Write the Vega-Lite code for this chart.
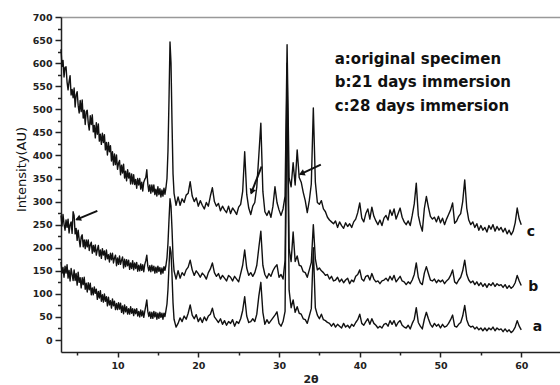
{
"$schema": "https://vega.github.io/schema/vega-lite/v6.json",
"width": 499, "height": 335,
"autosize": {"type": "none"},
"padding": {"left": 61, "top": 17, "right": 0, "bottom": 33},
"config": {"view": {"stroke": null}, "axis": {"grid": false}},
"datasets": {
"xrd": [
{"x":3.000,"a":169,"b":270,"c":630},{"x":3.125,"a":145,"b":247,"c":593},{"x":3.250,"a":157,"b":272,"c":606},{"x":3.375,"a":136,"b":251,"c":570},
{"x":3.500,"a":160,"b":238,"c":591},{"x":3.625,"a":145,"b":260,"c":592},{"x":3.750,"a":163,"b":244,"c":559},{"x":3.875,"a":134,"b":262,"c":542},
{"x":4.000,"a":151,"b":232,"c":560},{"x":4.125,"a":128,"b":250,"c":573},{"x":4.250,"a":155,"b":256,"c":531},{"x":4.375,"a":142,"b":231,"c":543},
{"x":4.500,"a":129,"b":278,"c":525},{"x":4.625,"a":152,"b":270,"c":546},{"x":4.750,"a":129,"b":230,"c":505},{"x":4.875,"a":144,"b":242,"c":531},
{"x":5.000,"a":119,"b":216,"c":538},{"x":5.125,"a":147,"b":238,"c":509},{"x":5.250,"a":125,"b":218,"c":492},{"x":5.375,"a":135,"b":202,"c":519},
{"x":5.500,"a":113,"b":223,"c":495},{"x":5.625,"a":135,"b":228,"c":520},{"x":5.750,"a":120,"b":202,"c":481},{"x":5.875,"a":136,"b":217,"c":498},
{"x":6.000,"a":110,"b":198,"c":467},{"x":6.125,"a":123,"b":217,"c":495},{"x":6.250,"a":104,"b":202,"c":498},{"x":6.375,"a":124,"b":217,"c":470},
{"x":6.500,"a":109,"b":194,"c":455},{"x":6.625,"a":123,"b":206,"c":486},{"x":6.750,"a":98,"b":212,"c":467},{"x":6.875,"a":113,"b":188,"c":488},
{"x":7.000,"a":98,"b":205,"c":451},{"x":7.125,"a":115,"b":191,"c":465},{"x":7.250,"a":101,"b":206,"c":438},{"x":7.375,"a":110,"b":184,"c":471},
{"x":7.500,"a":88,"b":196,"c":446},{"x":7.625,"a":105,"b":205,"c":468},{"x":7.750,"a":91,"b":182,"c":431},{"x":7.875,"a":107,"b":195,"c":446},
{"x":8.000,"a":84,"b":177,"c":424},{"x":8.125,"a":98,"b":198,"c":448},{"x":8.250,"a":82,"b":184,"c":428},{"x":8.375,"a":100,"b":193,"c":445},
{"x":8.500,"a":84,"b":174,"c":412},{"x":8.625,"a":94,"b":195,"c":428},{"x":8.750,"a":74,"b":176,"c":401},{"x":8.875,"a":93,"b":185,"c":428},
{"x":9.000,"a":76,"b":169,"c":408},{"x":9.125,"a":85,"b":188,"c":421},{"x":9.250,"a":69,"b":174,"c":388},{"x":9.375,"a":89,"b":188,"c":408},
{"x":9.500,"a":74,"b":167,"c":379},{"x":9.625,"a":84,"b":178,"c":403},{"x":9.750,"a":66,"b":184,"c":380},{"x":9.875,"a":79,"b":161,"c":401},
{"x":10.000,"a":66,"b":178,"c":370},{"x":10.125,"a":81,"b":164,"c":383},{"x":10.250,"a":67,"b":182,"c":389},{"x":10.375,"a":80,"b":164,"c":358},
{"x":10.500,"a":60,"b":173,"c":379},{"x":10.625,"a":74,"b":180,"c":362},{"x":10.750,"a":57,"b":156,"c":381},{"x":10.875,"a":76,"b":175,"c":351},
{"x":11.000,"a":61,"b":159,"c":366},{"x":11.125,"a":72,"b":174,"c":345},{"x":11.250,"a":56,"b":161,"c":369},{"x":11.375,"a":68,"b":173,"c":351},
{"x":11.500,"a":56,"b":153,"c":362},{"x":11.625,"a":72,"b":167,"c":338},{"x":11.750,"a":58,"b":155,"c":360},{"x":11.875,"a":68,"b":172,"c":338},
{"x":12.000,"a":53,"b":152,"c":358},{"x":12.125,"a":67,"b":167,"c":337},{"x":12.250,"a":57,"b":155,"c":348},{"x":12.375,"a":68,"b":168,"c":329},
{"x":12.500,"a":52,"b":149,"c":350},{"x":12.625,"a":62,"b":162,"c":336},{"x":12.750,"a":50,"b":150,"c":350},{"x":12.875,"a":65,"b":165,"c":327},
{"x":13.000,"a":52,"b":151,"c":342},{"x":13.125,"a":63,"b":163,"c":323},{"x":13.250,"a":49,"b":148,"c":342},{"x":13.375,"a":62,"b":164,"c":348},
{"x":13.500,"a":74,"b":172,"c":352},{"x":13.625,"a":87,"b":184,"c":369},{"x":13.750,"a":62,"b":160,"c":338},{"x":13.875,"a":51,"b":150,"c":322},
{"x":14.000,"a":61,"b":161,"c":336},{"x":14.125,"a":47,"b":148,"c":318},{"x":14.250,"a":60,"b":162,"c":336},{"x":14.375,"a":47,"b":150,"c":321},
{"x":14.500,"a":62,"b":160,"c":336},{"x":14.625,"a":50,"b":145,"c":315},{"x":14.750,"a":60,"b":158,"c":327},{"x":14.875,"a":45,"b":146,"c":312},
{"x":15.000,"a":58,"b":160,"c":332},{"x":15.125,"a":47,"b":149,"c":315},{"x":15.250,"a":60,"b":157,"c":328},{"x":15.375,"a":49,"b":143,"c":310},
{"x":15.500,"a":58,"b":156,"c":325},{"x":15.625,"a":45,"b":145,"c":312},{"x":15.750,"a":58,"b":159,"c":329},{"x":15.875,"a":51,"b":151,"c":316},
{"x":16.000,"a":64,"b":162,"c":330},{"x":16.125,"a":78,"b":178,"c":350},{"x":16.250,"a":110,"b":210,"c":410},{"x":16.375,"a":160,"b":260,"c":520},
{"x":16.500,"a":202,"b":306,"c":646},{"x":16.625,"a":190,"b":290,"c":600},{"x":16.750,"a":140,"b":240,"c":470},{"x":16.875,"a":80,"b":180,"c":360},
{"x":17.000,"a":45,"b":150,"c":318},{"x":17.250,"a":28,"b":132,"c":292},
{"x":17.50,"a":36,"b":150,"c":310},{"x":17.75,"a":48,"b":134,"c":292},{"x":18.00,"a":40,"b":146,"c":306},{"x":18.25,"a":52,"b":140,"c":298},
{"x":18.50,"a":45,"b":152,"c":314},{"x":18.75,"a":58,"b":158,"c":318},{"x":19.00,"a":76,"b":173,"c":343},{"x":19.25,"a":54,"b":152,"c":312},
{"x":19.50,"a":46,"b":140,"c":300},{"x":19.75,"a":55,"b":150,"c":308},{"x":20.00,"a":40,"b":144,"c":290},{"x":20.25,"a":48,"b":136,"c":302},
{"x":20.50,"a":38,"b":145,"c":292},{"x":20.75,"a":50,"b":140,"c":284},{"x":21.00,"a":42,"b":132,"c":298},{"x":21.25,"a":52,"b":146,"c":290},
{"x":21.50,"a":56,"b":154,"c":312},{"x":21.75,"a":69,"b":167,"c":330},{"x":22.00,"a":50,"b":146,"c":300},{"x":22.25,"a":44,"b":138,"c":290},
{"x":22.50,"a":38,"b":144,"c":296},{"x":22.75,"a":46,"b":132,"c":280},{"x":23.00,"a":34,"b":140,"c":290},{"x":23.25,"a":42,"b":134,"c":282},
{"x":23.50,"a":32,"b":128,"c":276},{"x":23.75,"a":40,"b":140,"c":290},{"x":24.00,"a":36,"b":136,"c":274},{"x":24.25,"a":44,"b":128,"c":286},
{"x":24.50,"a":30,"b":138,"c":280},{"x":24.75,"a":40,"b":132,"c":272},{"x":25.00,"a":36,"b":126,"c":288},{"x":25.25,"a":46,"b":144,"c":294},
{"x":25.50,"a":64,"b":162,"c":322},{"x":25.75,"a":94,"b":195,"c":408},{"x":26.00,"a":52,"b":156,"c":316},{"x":26.25,"a":38,"b":140,"c":286},
{"x":26.50,"a":40,"b":146,"c":272},{"x":26.75,"a":46,"b":138,"c":290},{"x":27.00,"a":40,"b":146,"c":298},{"x":27.25,"a":56,"b":162,"c":332},
{"x":27.50,"a":95,"b":200,"c":400},{"x":27.75,"a":125,"b":236,"c":470},{"x":28.00,"a":60,"b":162,"c":322},{"x":28.25,"a":34,"b":142,"c":278},
{"x":28.50,"a":44,"b":134,"c":270},{"x":28.75,"a":36,"b":144,"c":280},{"x":29.00,"a":42,"b":138,"c":266},{"x":29.25,"a":48,"b":150,"c":290},
{"x":29.50,"a":54,"b":158,"c":332},{"x":29.75,"a":61,"b":163,"c":298},{"x":30.00,"a":36,"b":136,"c":282},{"x":30.25,"a":30,"b":142,"c":270},
{"x":30.50,"a":40,"b":132,"c":284},{"x":30.75,"a":62,"b":172,"c":312},{"x":31.00,"a":580,"b":600,"c":640},{"x":31.25,"a":108,"b":198,"c":352},
{"x":31.50,"a":70,"b":170,"c":332},{"x":31.75,"a":87,"b":234,"c":384},{"x":32.00,"a":60,"b":170,"c":336},{"x":32.25,"a":72,"b":182,"c":412},
{"x":32.50,"a":58,"b":162,"c":352},{"x":32.75,"a":56,"b":160,"c":342},{"x":33.00,"a":46,"b":148,"c":320},{"x":33.25,"a":44,"b":146,"c":302},
{"x":33.50,"a":36,"b":136,"c":276},{"x":33.75,"a":52,"b":152,"c":302},{"x":34.00,"a":68,"b":168,"c":338},{"x":34.25,"a":200,"b":250,"c":503},
{"x":34.50,"a":70,"b":176,"c":342},{"x":34.75,"a":54,"b":152,"c":298},{"x":35.00,"a":46,"b":156,"c":294},{"x":35.25,"a":56,"b":150,"c":302},
{"x":35.50,"a":44,"b":146,"c":284},{"x":35.75,"a":42,"b":140,"c":278},{"x":36.00,"a":38,"b":142,"c":266},{"x":36.25,"a":36,"b":132,"c":260},
{"x":36.50,"a":30,"b":138,"c":256},{"x":36.75,"a":36,"b":128,"c":252},{"x":37.00,"a":28,"b":130,"c":258},{"x":37.25,"a":34,"b":136,"c":244},
{"x":37.50,"a":30,"b":126,"c":256},{"x":37.75,"a":26,"b":132,"c":248},{"x":38.00,"a":36,"b":124,"c":242},{"x":38.25,"a":28,"b":130,"c":254},
{"x":38.50,"a":32,"b":134,"c":246},{"x":38.75,"a":26,"b":122,"c":252},{"x":39.00,"a":34,"b":130,"c":244},{"x":39.25,"a":30,"b":126,"c":256},
{"x":39.50,"a":38,"b":138,"c":262},{"x":39.75,"a":44,"b":142,"c":276},{"x":40.00,"a":56,"b":152,"c":297},{"x":40.25,"a":36,"b":132,"c":264},
{"x":40.50,"a":32,"b":128,"c":256},{"x":40.75,"a":40,"b":138,"c":274},{"x":41.00,"a":46,"b":140,"c":284},{"x":41.25,"a":34,"b":130,"c":262},
{"x":41.50,"a":46,"b":144,"c":288},{"x":41.75,"a":36,"b":132,"c":268},{"x":42.00,"a":32,"b":126,"c":258},{"x":42.25,"a":26,"b":128,"c":250},
{"x":42.50,"a":30,"b":122,"c":260},{"x":42.75,"a":26,"b":128,"c":248},{"x":43.00,"a":34,"b":130,"c":264},{"x":43.25,"a":36,"b":134,"c":270},
{"x":43.50,"a":30,"b":128,"c":260},{"x":43.75,"a":42,"b":138,"c":282},{"x":44.00,"a":34,"b":130,"c":270},{"x":44.25,"a":42,"b":140,"c":284},
{"x":44.50,"a":30,"b":126,"c":262},{"x":44.75,"a":38,"b":132,"c":274},{"x":45.00,"a":42,"b":138,"c":286},{"x":45.25,"a":32,"b":128,"c":266},
{"x":45.50,"a":28,"b":126,"c":256},{"x":45.75,"a":26,"b":120,"c":250},{"x":46.00,"a":32,"b":126,"c":258},{"x":46.25,"a":24,"b":122,"c":248},
{"x":46.50,"a":36,"b":130,"c":270},{"x":46.75,"a":45,"b":142,"c":295},{"x":47.00,"a":70,"b":167,"c":340},{"x":47.25,"a":38,"b":136,"c":270},
{"x":47.50,"a":30,"b":124,"c":250},{"x":47.75,"a":24,"b":120,"c":236},{"x":48.00,"a":45,"b":145,"c":285},{"x":48.25,"a":60,"b":159,"c":311},
{"x":48.50,"a":46,"b":144,"c":288},{"x":48.75,"a":34,"b":130,"c":268},{"x":49.00,"a":28,"b":128,"c":262},{"x":49.25,"a":36,"b":132,"c":266},
{"x":49.50,"a":30,"b":124,"c":256},{"x":49.75,"a":34,"b":130,"c":268},{"x":50.00,"a":26,"b":126,"c":254},{"x":50.25,"a":34,"b":130,"c":264},
{"x":50.50,"a":28,"b":122,"c":250},{"x":50.75,"a":30,"b":128,"c":262},{"x":51.00,"a":36,"b":132,"c":272},{"x":51.25,"a":44,"b":140,"c":282},
{"x":51.50,"a":54,"b":152,"c":297},{"x":51.75,"a":30,"b":126,"c":253},{"x":52.00,"a":28,"b":122,"c":258},{"x":52.25,"a":34,"b":130,"c":268},
{"x":52.50,"a":38,"b":136,"c":274},{"x":52.75,"a":52,"b":150,"c":300},{"x":53.00,"a":75,"b":173,"c":347},{"x":53.25,"a":44,"b":142,"c":286},
{"x":53.50,"a":32,"b":130,"c":260},{"x":53.75,"a":28,"b":124,"c":250},{"x":54.00,"a":30,"b":128,"c":256},{"x":54.25,"a":24,"b":120,"c":244},
{"x":54.50,"a":28,"b":126,"c":252},{"x":54.75,"a":22,"b":118,"c":238},{"x":55.00,"a":26,"b":124,"c":248},{"x":55.25,"a":20,"b":116,"c":238},
{"x":55.50,"a":26,"b":122,"c":244},{"x":55.75,"a":20,"b":114,"c":234},{"x":56.00,"a":26,"b":122,"c":248},{"x":56.25,"a":22,"b":118,"c":240},
{"x":56.50,"a":28,"b":124,"c":250},{"x":56.75,"a":20,"b":116,"c":236},{"x":57.00,"a":26,"b":122,"c":246},{"x":57.25,"a":22,"b":118,"c":238},
{"x":57.50,"a":24,"b":120,"c":244},{"x":57.75,"a":18,"b":114,"c":234},{"x":58.00,"a":24,"b":120,"c":242},{"x":58.25,"a":18,"b":112,"c":230},
{"x":58.50,"a":22,"b":118,"c":238},{"x":58.75,"a":16,"b":112,"c":228},{"x":59.00,"a":20,"b":116,"c":236},{"x":59.25,"a":28,"b":124,"c":254},
{"x":59.50,"a":42,"b":140,"c":286},{"x":59.75,"a":30,"b":128,"c":262},{"x":60.00,"a":22,"b":118,"c":250}
],
"arrows": [
{"id":1,"x":7.5,"y":280,"x2":4.9,"y2":261},
{"id":2,"x":27.84,"y":376,"x2":26.55,"y2":318},
{"id":3,"x":35.18,"y":380,"x2":32.6,"y2":359}
],
"heads": [
{"id":1,"x":5.1,"y":262.5},
{"id":2,"x":26.63,"y":321},
{"id":3,"x":32.8,"y":360.7}
],
"notes": [
{"x":36.9,"y":599,"text":"a:original specimen"},
{"x":36.9,"y":549,"text":"b:21 days immersion"},
{"x":36.9,"y":497,"text":"c:28 days immersion"}
],
"tags": [
{"x":61.2,"y":234,"text":"c"},
{"x":61.5,"y":115,"text":"b"},
{"x":62.0,"y":28,"text":"a"}
]
},
"resolve": {"axis": {"x": "independent", "y": "independent"}},
"layer": [
{
"data": {"name": "xrd"},
"transform": [{"fold": ["a", "b", "c"], "as": ["series", "value"]}],
"mark": {"type": "line", "color": "#111", "strokeWidth": 1.4, "strokeJoin": "round"},
"encoding": {
"x": {"field": "x", "type": "quantitative", "scale": {"domain": [3, 64.8], "nice": false, "zero": false},
"axis": {"orient": "bottom", "values": [10, 20, 30, 40, 50, 60], "title": "2θ", "titleFont": "DejaVu Sans", "titleFontWeight": "bold", "titleFontSize": 11, "titleColor": "#222", "titleBaseline": "top", "titleY": 21,
"labelFont": "DejaVu Sans", "labelFontWeight": "bold", "labelFontSize": 9.5, "labelColor": "#222", "labelPadding": 3, "tickSize": 5, "tickWidth": 1.5, "tickColor": "#222", "domainColor": "#222", "domainWidth": 1.5}},
"y": {"field": "value", "type": "quantitative", "scale": {"domain": [-26, 700], "nice": false, "zero": false},
"axis": {"orient": "left", "values": [0, 50, 100, 150, 200, 250, 300, 350, 400, 450, 500, 550, 600, 650, 700], "title": "Intensity(AU)", "titleFont": "DejaVu Sans", "titleFontWeight": "normal", "titleFontSize": 13, "titleColor": "#111", "titleX": -40, "titleY": 152, "titleBaseline": "middle", "titleAngle": -90,
"labelFont": "DejaVu Sans", "labelFontWeight": "bold", "labelFontSize": 9.5, "labelColor": "#222", "labelPadding": 3, "tickSize": 6, "tickWidth": 1.5, "tickColor": "#222", "domainColor": "#222", "domainWidth": 1.5}},
"detail": {"field": "series"}
}
},
{
"data": {"name": "arrows"},
"mark": {"type": "rule", "color": "#111", "strokeWidth": 2},
"encoding": {
"x": {"field": "x", "type": "quantitative", "scale": {"domain": [3, 64.8], "nice": false, "zero": false},
"axis": {"orient": "bottom", "values": [5, 15, 25, 35, 45, 55], "labels": false, "title": null, "domain": false, "tickSize": 3, "tickWidth": 1.5, "tickColor": "#222"}},
"y": {"field": "y", "type": "quantitative", "scale": {"domain": [-26, 700], "nice": false, "zero": false},
"axis": {"orient": "left", "values": [25, 75, 125, 175, 225, 275, 325, 375, 425, 475, 525, 575, 625, 675], "labels": false, "title": null, "domain": false, "tickSize": 3.5, "tickWidth": 1.5, "tickColor": "#222"}},
"x2": {"field": "x2"},
"y2": {"field": "y2"}
}
},
{
"data": {"name": "heads"},
"transform": [{"filter": "datum.id != 2"}],
"mark": {"type": "point", "shape": "triangle-up", "filled": true, "color": "#111", "size": 45, "angle": 246, "opacity": 1},
"encoding": {
"x": {"field": "x", "type": "quantitative", "axis": null},
"y": {"field": "y", "type": "quantitative", "axis": null}
}
},
{
"data": {"name": "heads"},
"transform": [{"filter": "datum.id == 2"}],
"mark": {"type": "point", "shape": "triangle-up", "filled": true, "color": "#111", "size": 45, "angle": 201, "opacity": 1},
"encoding": {
"x": {"field": "x", "type": "quantitative", "axis": null},
"y": {"field": "y", "type": "quantitative", "axis": null}
}
},
{
"data": {"name": "notes"},
"mark": {"type": "text", "align": "left", "baseline": "alphabetic", "font": "DejaVu Sans", "fontWeight": "bold", "fontSize": 15, "color": "#111"},
"encoding": {
"x": {"field": "x", "type": "quantitative", "axis": {"orient": "top", "labels": false, "ticks": false, "title": null, "domainColor": "#999", "domainWidth": 1.5}},
"y": {"field": "y", "type": "quantitative", "axis": null},
"text": {"field": "text"}
}
},
{
"data": {"name": "tags"},
"mark": {"type": "text", "align": "center", "baseline": "middle", "font": "DejaVu Sans", "fontWeight": "bold", "fontSize": 14, "color": "#111"},
"encoding": {
"x": {"field": "x", "type": "quantitative", "axis": null},
"y": {"field": "y", "type": "quantitative", "axis": null},
"text": {"field": "text"}
}
}
]
}
